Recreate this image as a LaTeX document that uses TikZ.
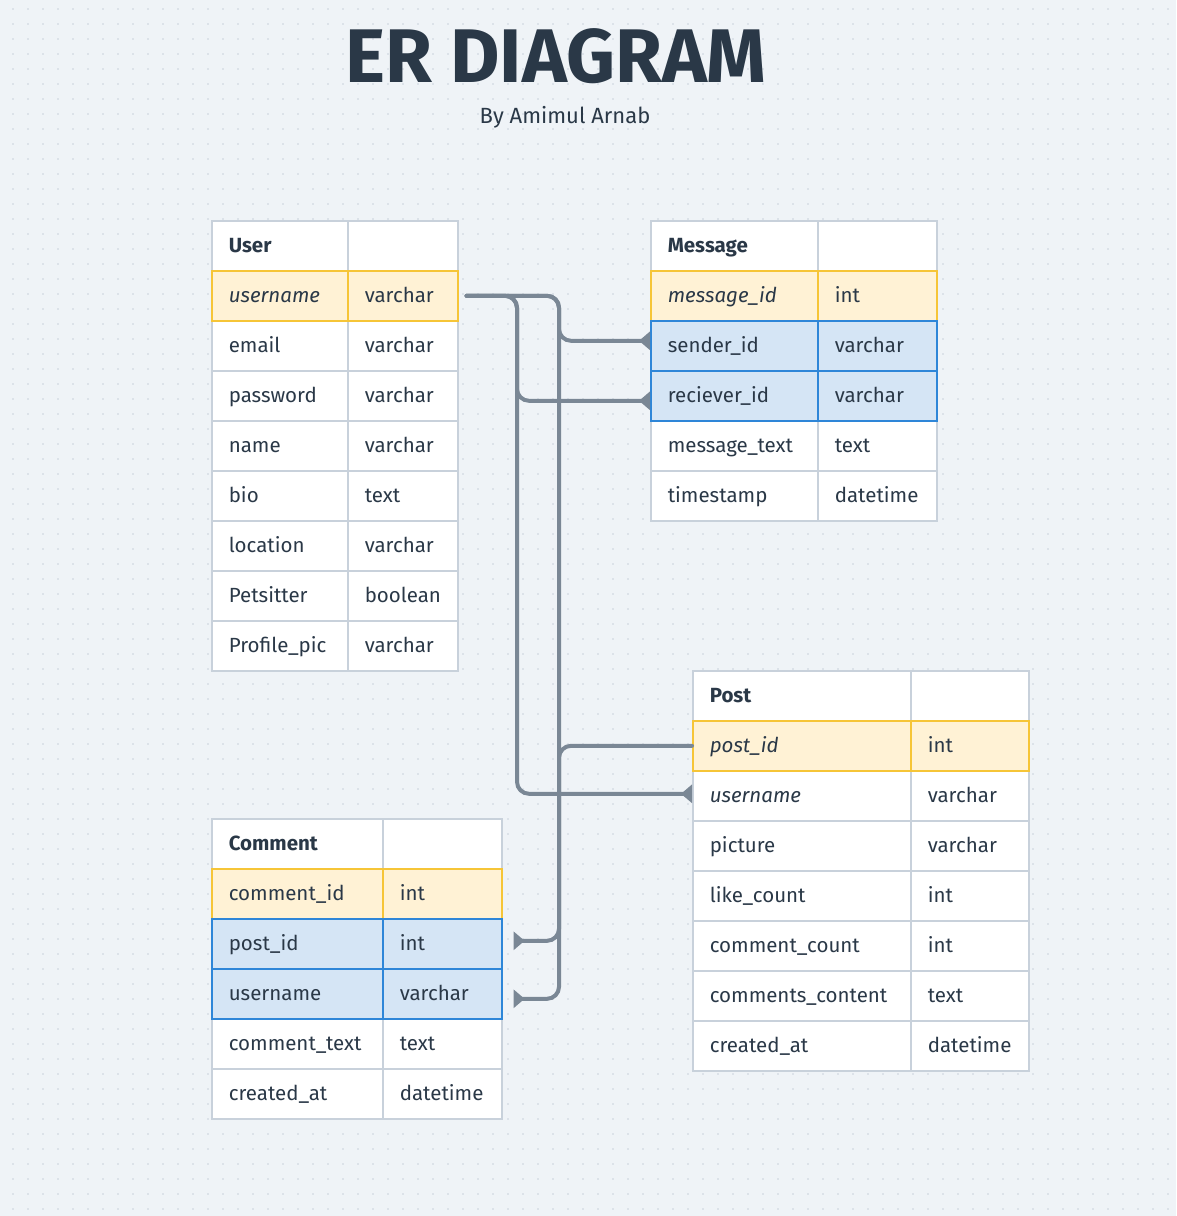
\documentclass[tikz,border=0pt]{standalone}
\usepackage{fontspec}
\setmainfont{Fira Sans}
\usetikzlibrary{arrows.meta,calc}
\definecolor{bg}{HTML}{EFF3F7}
\definecolor{dotc}{HTML}{DCE2E9}
\definecolor{ink}{HTML}{2A3847}
\definecolor{cellborder}{HTML}{C8D1DB}
\definecolor{pkfill}{HTML}{FFF2D5}
\definecolor{pkborder}{HTML}{F6C537}
\definecolor{fkfill}{HTML}{D5E5F5}
\definecolor{fkborder}{HTML}{2E86D8}
\definecolor{connc}{HTML}{7A8795}
\tikzset{
  cell/.style={draw=cellborder, fill=white, line width=1.6pt, inner xsep=17pt, inner ysep=0pt,
    minimum height=50pt, anchor=north west, align=left, text=ink,
    font=\fontsize{20.5}{24}\selectfont, text height=18pt, text depth=4pt},
  pk/.style={draw=pkborder, fill=pkfill},
  fk/.style={draw=fkborder, fill=fkfill},
  plain/.style={},
  conn/.style={draw=connc, line width=4pt, rounded corners=12pt, line cap=round},
  tipped/.style={-{Triangle[reversed,length=11pt,width=18pt]}},
}
\newcommand\ercell[6]{\pgfmathsetmacro\tw{#4-34}\node[cell,#5,text width=\tw pt] (#1) at (#2,#3) {#6};}
% prefix-key, x, xd, x2, y, style, name, type
\newcommand\errow[8]{%
  \pgfmathsetmacro\wa{#3-#2}\pgfmathsetmacro\wb{#4-#3}%
  \ercell{#1-n}{#2}{#5}{\wa}{#6}{#7}%
  \ercell{#1-t}{#3}{#5}{\wb}{#6}{#8}}
\begin{document}
\begin{tikzpicture}[x=1pt,y=-1pt]
\fill[bg] (0,0) rectangle (1176,1216);
\useasboundingbox (0,0) rectangle (1176,1216);
\foreach \k in {0,...,80}{
  \draw[dotc, line width=2pt, dash pattern=on 2pt off 13pt] (12.3,9+15*\k) -- (1176,9+15*\k);
}
% title
\node[text=ink, font=\fontsize{76}{80}\selectfont\bfseries, anchor=base] (title) at (556,82) {ER DIAGRAM};
\node[text=ink, font=\fontsize{22}{26}\selectfont, anchor=base] (subtitle) at (565,123) {By Amimul Arnab};

% User
\errow{user-head}{211}{347}{457}{220}{plain}{\textbf{User}}{}
\errow{user-email}{211}{347}{457}{320}{plain}{email}{varchar}
\errow{user-password}{211}{347}{457}{370}{plain}{password}{varchar}
\errow{user-name}{211}{347}{457}{420}{plain}{name}{varchar}
\errow{user-bio}{211}{347}{457}{470}{plain}{bio}{text}
\errow{user-location}{211}{347}{457}{520}{plain}{location}{varchar}
\errow{user-petsitter}{211}{347}{457}{570}{plain}{Petsitter}{boolean}
\errow{user-pic}{211}{347}{457}{620}{plain}{Profile\_pic}{varchar}
\errow{user-username}{211}{347}{457}{270}{pk}{\textit{username}}{varchar}

% Message
\errow{msg-head}{650}{817}{936}{220}{plain}{\textbf{Message}}{}
\errow{msg-text}{650}{817}{936}{420}{plain}{message\_text}{text}
\errow{msg-time}{650}{817}{936}{470}{plain}{timestamp}{datetime}
\errow{msg-id}{650}{817}{936}{270}{pk}{\textit{message\_id}}{int}
\errow{msg-sender}{650}{817}{936}{320}{fk}{sender\_id}{varchar}
\errow{msg-reciever}{650}{817}{936}{370}{fk}{reciever\_id}{varchar}

% Post
\errow{post-head}{692}{910}{1028}{670}{plain}{\textbf{Post}}{}
\errow{post-username}{692}{910}{1028}{770}{plain}{\textit{username}}{varchar}
\errow{post-picture}{692}{910}{1028}{820}{plain}{picture}{varchar}
\errow{post-like}{692}{910}{1028}{870}{plain}{like\_count}{int}
\errow{post-ccount}{692}{910}{1028}{920}{plain}{comment\_count}{int}
\errow{post-ccontent}{692}{910}{1028}{970}{plain}{comments\_content}{text}
\errow{post-created}{692}{910}{1028}{1020}{plain}{created\_at}{datetime}
\errow{post-id}{692}{910}{1028}{720}{pk}{\textit{post\_id}}{int}

% Comment
\errow{com-head}{211}{382}{501}{818}{plain}{\textbf{Comment}}{}
\errow{com-text}{211}{382}{501}{1018}{plain}{comment\_text}{text}
\errow{com-created}{211}{382}{501}{1068}{plain}{created\_at}{datetime}
\errow{com-id}{211}{382}{501}{868}{pk}{comment\_id}{int}
\errow{com-postid}{211}{382}{501}{918}{fk}{post\_id}{int}
\errow{com-username}{211}{382}{501}{968}{fk}{username}{varchar}

% connectors
\coordinate (busA) at (517,0);
\coordinate (busB) at (559,0);
\coordinate (src) at ([xshift=8pt]user-username-t.east);
\coordinate (msA) at ([yshift=5pt]msg-sender-n.west);
\coordinate (mrA) at ([yshift=-5pt]msg-reciever-n.west);
\coordinate (puA) at ([yshift=2pt]post-username-n.west);
\coordinate (cpA) at ([xshift=11pt,yshift=3pt]com-postid-t.east);
\coordinate (cuA) at ([xshift=11pt,yshift=-5pt]com-username-t.east);
\draw[conn,tipped] (src) -| (busB |- msA) -- (msA);
\draw[conn,tipped] (src) -| (busA |- mrA) -- (mrA);
\draw[conn,tipped] (src) -| (busA |- puA) -- (puA);
\draw[conn,tipped] (src) -| (busB |- cuA) -- (cuA);
\draw[conn,tipped] (post-id-n.west) -| (busB |- cpA) -- (cpA);
\end{tikzpicture}
\end{document}
